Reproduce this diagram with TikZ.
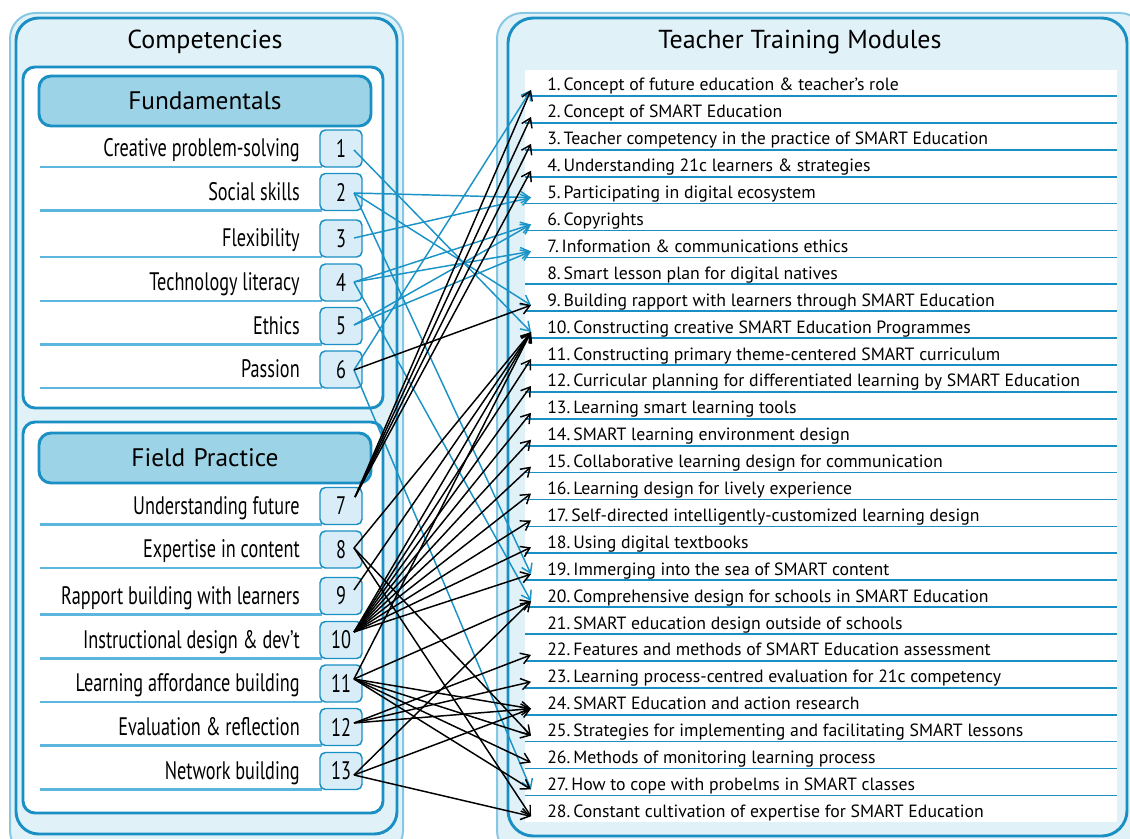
\documentclass[tikz,border=0pt]{standalone}
\usepackage{fontspec}
\setmainfont{PT Sans}
\newfontfamily\condfont[FakeStretch=0.72]{PT Sans}
\usetikzlibrary{arrows.meta}
\definecolor{panelfill}{HTML}{E1F1F8}
\definecolor{bordblue}{HTML}{1A8FC4}
\definecolor{lightbord}{HTML}{86C8E4}
\definecolor{headfill}{HTML}{9DD3E7}
\definecolor{numfill}{HTML}{D8EDF7}
\definecolor{ulblue}{HTML}{5DB6DD}
\definecolor{arrblue}{HTML}{1A93C6}
\tikzset{
  panelthick/.style={draw=bordblue,line width=2.2pt},
  panellight/.style={draw=lightbord,line width=1.5pt,fill=panelfill},
  hdr/.style={draw=bordblue,line width=2.2pt,fill=headfill,rounded corners=9pt,
    minimum width=249pt,minimum height=37.5pt,inner sep=0pt,
    font=\fontsize{19pt}{21pt}\selectfont},
  ttl/.style={inner sep=0pt,font=\fontsize{19.5pt}{21pt}\selectfont},
  item/.style={inner sep=0pt,anchor=base east,font=\condfont\fontsize{19pt}{21pt}\selectfont},
  numbox/.style={draw=bordblue,line width=1.1pt,fill=numfill,rounded corners=4pt,
    minimum width=31.5pt,minimum height=27.75pt,inner sep=0pt,
    font=\condfont\fontsize{19pt}{21pt}\selectfont},
  ul/.style={draw=ulblue,line width=2pt},
  rule/.style={draw=bordblue,line width=1.3pt},
  mod/.style={inner sep=0pt,anchor=base west,font=\fontsize{13.3pt}{15pt}\selectfont},
  conn/.style={line width=1.1pt,-{Straight Barb[length=6.5pt,width=8.5pt]}},
  bconn/.style={conn,draw=arrblue},
  kconn/.style={conn,draw=black}
}
\begin{document}
\begin{tikzpicture}[x=0.75pt,y=-0.75pt]
\useasboundingbox (0,0) rectangle (1130,838);
% ---------- panels ----------
\path[panellight,rounded corners=19pt] (10,13) rectangle (403,856);
\path[panelthick,rounded corners=17pt] (16,18) rectangle (397,834);
\path[panellight,rounded corners=19pt] (497,13) rectangle (1145,856);
\path[panelthick,rounded corners=19pt] (508,18) rectangle (1127,836);
\path[panelthick,fill=white,rounded corners=9pt] (23,67) rectangle (383,408);
\path[panelthick,fill=white,rounded corners=9pt] (23,422) rectangle (383,813);
\fill[white] (525,70) rectangle (1117,822);
% ---------- titles ----------
\node[ttl] (tcomp) at (205,42) {Competencies};
\node[ttl] (tmod) at (800,42) {Teacher Training Modules};
\node[hdr] (hfund) at (205,101) {Fundamentals};
\node[hdr,text width=232pt,align=center] (hfield) at (205,458) {Field Practice\hspace*{8pt}};
% ---------- competency items ----------
\foreach \i/\y/\txt in {1/148.5/Creative problem-solving, 2/192/Social skills,
  3/238.5/Flexibility, 4/282.5/Technology literacy, 5/326/Ethics, 6/369.5/Passion,
  7/506/Understanding future, 8/549.5/Expertise in content,
  9/596/Rapport building with learners, 10/640/Instructional design \& dev’t,
  11/683.5/Learning affordance building, 12/727/Evaluation \& reflection,
  13/771/Network building} {
  \draw[ul] (40,\y+18.5) -- (322,\y+18.5);
  \node[item] (c\i) at (300,\y+8) {\txt};
  \node[numbox] (n\i) at (341,\y) {\i};
}
% ---------- module list ----------
\foreach \i in {1,...,27} {
  \draw[rule] (525,{96+(\i-1)*26.9}) -- (1117,{96+(\i-1)*26.9});
}
\foreach \i/\txt in {
 1/{Concept of future education \& teacher’s role},
 2/{Concept of SMART Education},
 3/{Teacher competency in the practice of SMART Education},
 4/{Understanding 21c learners \& strategies},
 5/{Participating in digital ecosystem},
 6/{Copyrights},
 7/{Information \& communications ethics},
 8/{Smart lesson plan for digital natives},
 9/{Building rapport with learners through SMART Education},
 10/{Constructing creative SMART Education Programmes},
 11/{Constructing primary theme-centered SMART curriculum},
 12/{Curricular planning for differentiated learning by SMART Education},
 13/{Learning smart learning tools},
 14/{SMART learning environment design},
 15/{Collaborative learning design for communication},
 16/{Learning design for lively experience},
 17/{Self-directed intelligently-customized learning design},
 18/{Using digital textbooks},
 19/{Immerging into the sea of SMART content},
 20/{Comprehensive design for schools in SMART Education},
 21/{SMART education design outside of schools},
 22/{Features and methods of SMART Education assessment},
 23/{Learning process-centred evaluation for 21c competency},
 24/{SMART Education and action research},
 25/{Strategies for implementing and facilitating SMART lessons},
 26/{Methods of monitoring learning process},
 27/{How to cope with probelms in SMART classes},
 28/{Constant cultivation of expertise for SMART Education}} {
  \node[mod] (m\i) at (547,{91+(\i-1)*26.9}) {\i.\,\txt};
  \coordinate (t\i) at (531,{90+(\i-1)*26.9});
}
% ---------- connector start points ----------
\coordinate (s1) at (354,150);
\coordinate (s2) at (354,193);
\coordinate (s3) at (354,238);
\coordinate (s4) at (354,282);
\coordinate (s5) at (354,325);
\coordinate (s6) at (354,370);
\coordinate (s7) at (355,497);
\coordinate (s8) at (354,548);
\coordinate (s9) at (354,590);
\coordinate (s10) at (354,632);
\coordinate (s11) at (354,679);
\coordinate (s12) at (354,723);
\coordinate (s13) at (354,775);
% ---------- blue connectors ----------
\foreach \a/\b in {1/10, 2/5, 2/9, 2/19, 3/5, 4/6, 4/7, 4/20, 5/6, 5/7, 6/1, 6/27} {
  \draw[bconn] (s\a) -- (t\b);
}
% ---------- black connectors ----------
\foreach \a/\b in {6/9, 7/1, 7/2, 7/3, 7/4, 8/10, 8/25, 8/28, 9/10,
  10/10, 10/11, 10/12, 10/13, 10/14, 10/15, 10/16, 10/17, 10/18, 10/19,
  11/10, 11/20, 11/24, 11/25, 11/26, 11/27, 12/22, 12/23, 12/24,
  13/20, 13/24, 13/28} {
  \draw[kconn] (s\a) -- (t\b);
}
\end{tikzpicture}
\end{document}
